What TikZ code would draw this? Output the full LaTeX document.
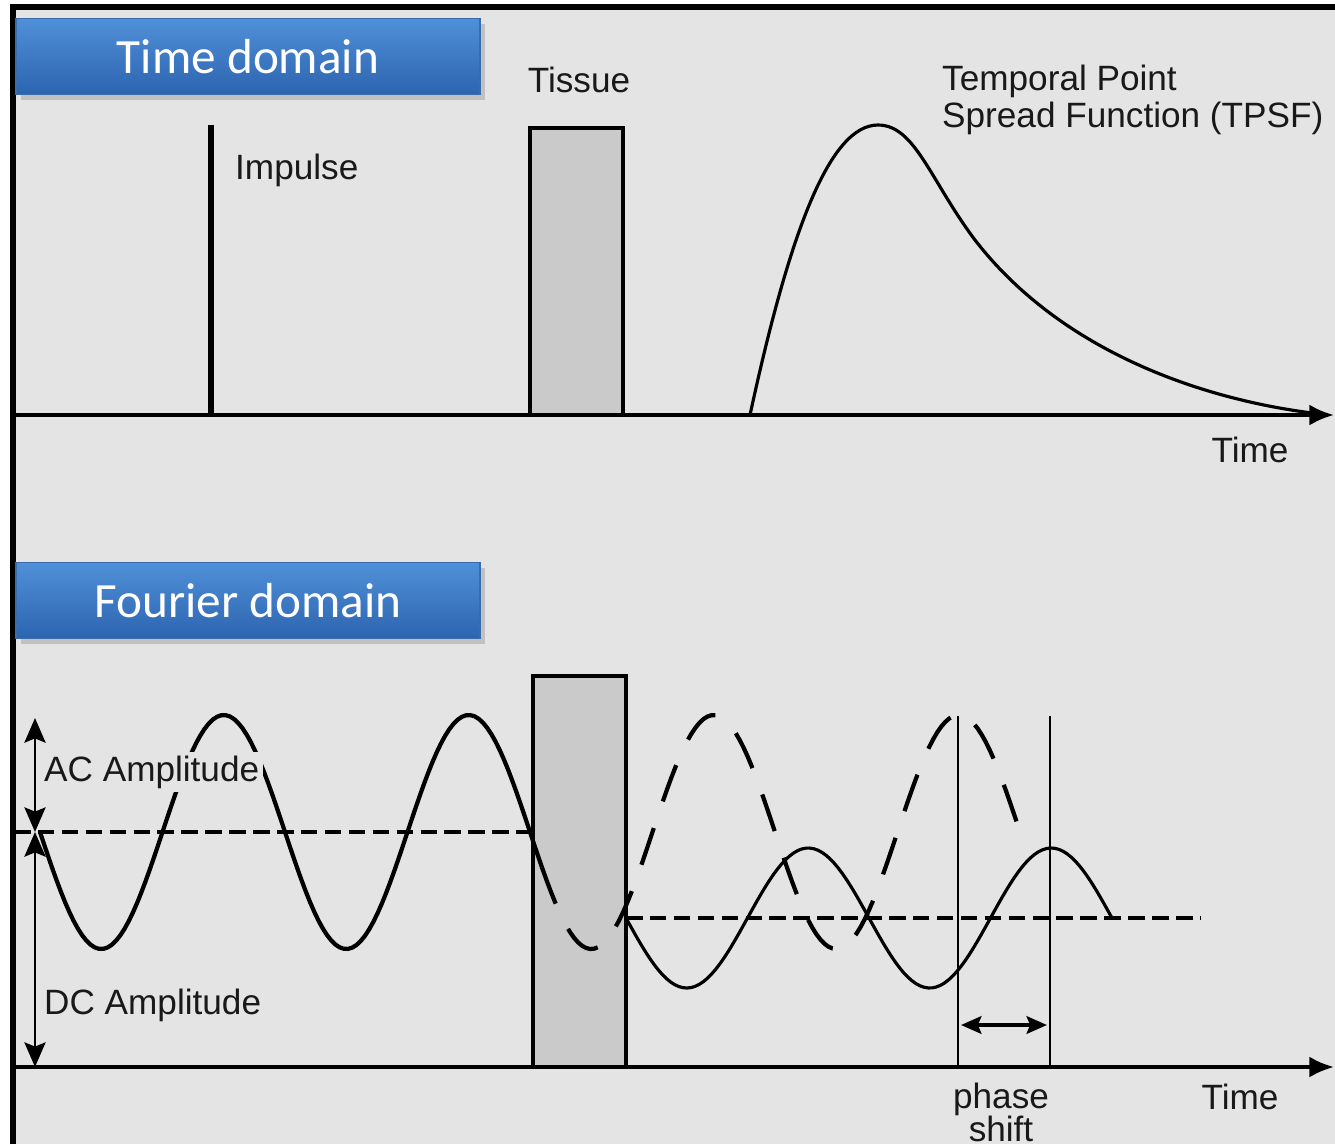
\documentclass[tikz,border=0pt]{standalone}
\usepackage{fontspec}
\setmainfont{Liberation Sans}
\newfontfamily\calibri{Carlito}
\usetikzlibrary{arrows.meta,shadows}

\definecolor{bggray}{RGB}{228,228,228}
\definecolor{tissuegray}{RGB}{202,202,202}
\definecolor{boxtop}{RGB}{80,144,216}
\definecolor{boxbot}{RGB}{44,100,176}
\definecolor{boxedge}{RGB}{58,108,172}

\tikzset{
  domainbox/.style={minimum width=4.64cm, minimum height=0.76cm, top color=boxtop,
    bottom color=boxbot, draw=boxedge, text=white, font=\calibri\fontsize{14}{16}\selectfont,
    drop shadow={opacity=0.35, shadow xshift=1.5pt, shadow yshift=-1.5pt}},
  lbl/.style={font=\fontsize{10}{12}\selectfont, text=black!90, inner sep=1pt},
  tissue/.style={draw, line width=1pt, fill=tissuegray},
  axis/.style={line width=1.1pt, -{Latex[length=7pt,width=6pt]}},
  dcline/.style={line width=1pt, dash pattern=on 4.7pt off 2.1pt},
  wavedash/.style={line width=1.2pt, dash pattern=on 11pt off 8pt},
  amp/.style={line width=0.8pt, {Stealth[length=7pt,width=6pt,inset=1.2pt]}-{Stealth[length=7pt,width=6pt,inset=1.2pt]}},
  shiftarrow/.style={line width=1pt, {Stealth[length=5.8pt,width=5pt,inset=1pt]}-{Stealth[length=5.8pt,width=5pt,inset=1pt]}},
}

\begin{document}
\begin{tikzpicture}[x=0.01cm,y=-0.01cm]
    \useasboundingbox (0,0) rectangle (1335,1144);

    % Background and frame
    \fill[white] (0,0) rectangle (1335,1144);
    \fill[bggray] (13,7) rectangle (1335,1144);
    \draw[line width=1.8pt] (13,1144) -- (13,7) -- (1335,7);

    % ---- Time domain ----
    \node[domainbox] (timebox) at (248,56.5) {Time domain};

    % Time axis
    \coordinate (tstart) at (14,415);
    \coordinate (tend) at (1334,415);
    \draw[axis] (tstart) -- (tend);

    % Impulse
    \coordinate (impbase) at (211,415);
    \coordinate (imptop) at (211,125);
    \draw[line width=1.5pt] (impbase) -- (imptop);
    \node[lbl, anchor=west] (impulse) at (231,170) {Impulse};

    % Tissue slab
    \draw[tissue] (530,128) rectangle (623,415);
    \node[lbl] (tissuelbl) at (579,80) {Tissue};

    % TPSF curve
    \draw[line width=0.9pt] (750,415) .. controls (790,230) and (830,125) .. (878,125)
        .. controls (915,125) and (930,180) .. (975,240)
        .. controls (1060,350) and (1200,400) .. (1320,414);
    \node[lbl, anchor=west, align=left, font=\fontsize{10}{10.3}\selectfont] (tpsf) at (938,100)
        {Temporal Point\\Spread Function (TPSF)};
    \node[lbl] (ttime) at (1250,450) {Time};

    % ---- Fourier domain ----
    \node[domainbox] (fourierbox) at (248,600.5) {Fourier domain};

    % Fourier axis
    \coordinate (fstart) at (14,1067);
    \coordinate (fend) at (1334,1067);
    \draw[axis] (fstart) -- (fend);

    % Tissue slab
    \draw[tissue] (533,676) rectangle (626,1067);

    % DC levels
    \draw[dcline] (14,832) -- (533,832);
    \draw[dcline] (626,918) -- (1200,918);

    % Incident wave, then its continuation (dashed)
    \draw[line width=1.2pt] plot[domain=40:542, samples=120] (\x, {832+117*sin((\x-40)/245*360)});
    \draw[wavedash] plot[domain=542:1022, samples=120] (\x, {832+117*sin((\x-40)/245*360)});

    % Transmitted wave
    \draw[line width=0.9pt] plot[domain=626:1112, samples=120] (\x, {918+70*sin((\x-626)/243*360)});

    % Phase shift
    \coordinate (ps1top) at (958,716);
    \coordinate (ps1bot) at (958,1067);
    \coordinate (ps2top) at (1050,716);
    \coordinate (ps2bot) at (1050,1067);
    \draw[line width=0.8pt] (ps1top) -- (ps1bot);
    \draw[line width=0.8pt] (ps2top) -- (ps2bot);
    \coordinate (psleft) at (961,1025);
    \coordinate (psright) at (1047,1025);
    \draw[shiftarrow] (psleft) -- (psright);
    \node[lbl, align=center, font=\fontsize{10}{9.4}\selectfont] (phase) at (1001,1112) {phase\\shift};
    \node[lbl] (ftime) at (1240,1097) {Time};

    % Amplitudes
    \coordinate (actop) at (35,718);
    \coordinate (dclevel) at (35,832);
    \coordinate (dcbot) at (35,1067);
    \draw[amp] (actop) -- (dclevel);
    \draw[amp] (dclevel) -- (dcbot);
    \node[lbl, anchor=west, fill=bggray] (aclbl) at (40,772) {AC Amplitude\hspace{9pt}};
    \node[lbl, anchor=west] (dclbl) at (40,1005) {DC Amplitude};

\end{tikzpicture}
\end{document}
